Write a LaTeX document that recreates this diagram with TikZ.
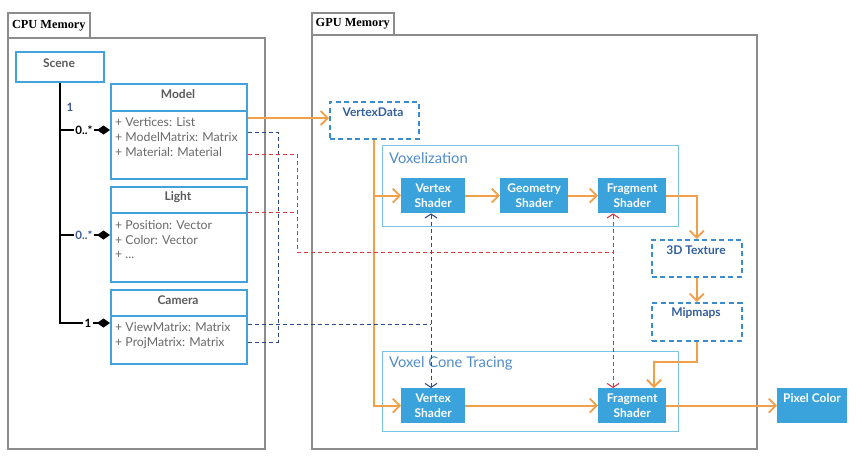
\documentclass[tikz,border=0pt]{standalone}
\usepackage{fontspec}
\setmainfont{Lato}
\newfontfamily\tabfont{Liberation Serif}
\usetikzlibrary{arrows.meta}
\definecolor{boxblue}{RGB}{58,163,220}
\definecolor{umlblue}{RGB}{65,162,220}
\definecolor{orng}{RGB}{240,160,72}
\definecolor{dashblue}{RGB}{60,140,205}
\definecolor{dtext}{RGB}{50,95,155}
\definecolor{framebl}{RGB}{125,195,232}
\definecolor{lbl}{RGB}{80,140,200}
\definecolor{navy}{RGB}{45,70,140}
\definecolor{redd}{RGB}{215,55,65}
\definecolor{gry}{RGB}{140,140,140}
\definecolor{txtg}{RGB}{105,105,105}
\definecolor{ttlg}{RGB}{90,90,90}
\definecolor{multblue}{RGB}{60,90,150}
\tikzset{
  memframe/.style={draw=gry, line width=1.6pt, anchor=north west, inner sep=0pt},
  memtab/.style={memframe, font=\tabfont\bfseries\fontsize{12.3}{14}\selectfont, text=black},
  umlbox/.style={draw=umlblue, line width=1.6pt, fill=white, anchor=north west, inner sep=0pt},
  umlline/.style={draw=umlblue, line width=1.6pt},
  ttl/.style={font=\bfseries\fontsize{12}{14}\selectfont, text=ttlg, inner sep=0pt},
  attr/.style={font=\fontsize{12.3}{14}\selectfont, text=txtg, anchor=west, inner sep=0pt},
  mult/.style={font=\bfseries\fontsize{11.5}{13}\selectfont, inner sep=1pt},
  blk/.style={draw=black, line width=1.6pt},
  dia/.style={blk, -{Diamond[length=13pt,width=9pt,fill=black]}},
  shader/.style={fill=boxblue, text=white, anchor=north west, inner sep=0pt, align=center,
    font=\bfseries\fontsize{12}{15}\selectfont},
  vframe/.style={draw=framebl, line width=1.2pt, anchor=north west, inner sep=0pt},
  flabel/.style={font=\fontsize{14.8}{16}\selectfont, text=lbl, anchor=west, inner sep=0pt},
  dbox/.style={draw=dashblue, line width=1.5pt, dash pattern=on 5pt off 3.5pt, anchor=north west, inner sep=0pt},
  dlab/.style={font=\bfseries\fontsize{12}{14}\selectfont, text=dtext, inner sep=0pt},
  oarr/.style={draw=orng, line width=1.8pt, -{Straight Barb[length=7pt,width=14pt]}},
  navyd/.style={draw=navy, line width=1pt, dash pattern=on 4pt off 3pt},
  redln/.style={draw=redd, line width=1pt, dash pattern=on 4pt off 3pt},
  dtips/.style={{Straight Barb[length=4pt,width=12pt]}-{Straight Barb[length=4pt,width=12pt]}}
}
\begin{document}
\begin{tikzpicture}[x=1pt,y=-1pt]
\useasboundingbox (0,0) rectangle (865,472);
% memory frames
\node[memframe, minimum width=257pt, minimum height=411pt] (cpu) at (7,37) {};
\node[memtab, minimum width=82pt, minimum height=25pt] (cputab) at (7,12) {CPU Memory};
\node[memframe, minimum width=445pt, minimum height=414pt] (gpu) at (311,34) {};
\node[memtab, minimum width=82pt, minimum height=22pt] (gputab) at (311,12) {GPU Memory};

% scene
\node[umlbox, minimum width=88pt, minimum height=30pt] (scene) at (15,51) {};
\node[ttl] (scenet) at (59,63) {Scene};

% model
\node[umlbox, minimum width=136pt, minimum height=95pt] (model) at (110,83) {};
\draw[umlline] (model.west |- 0,111) -- (model.east |- 0,111);
\node[ttl] (modelt) at (178,94) {Model};
\node[attr] (mv) at (115,122) {+ Vertices: List};
\node[attr] (mm) at (115,137) {+ ModelMatrix: Matrix};
\node[attr] (mt) at (115,152) {+ Material: Material};

% light
\node[umlbox, minimum width=136pt, minimum height=95pt] (light) at (110,186) {};
\draw[umlline] (light.west |- 0,213) -- (light.east |- 0,213);
\node[ttl] (lightt) at (178,197) {Light};
\node[attr] (lp) at (115,225) {+ Position: Vector};
\node[attr] (lc) at (115,240) {+ Color: Vector};
\node[attr] (le) at (115,255) {+ ...};

% camera
\node[umlbox, minimum width=136pt, minimum height=74pt] (camera) at (110,289) {};
\draw[umlline] (camera.west |- 0,316) -- (camera.east |- 0,316);
\node[ttl] (camerat) at (178,300) {Camera};
\node[attr] (cvm) at (115,327) {+ ViewMatrix: Matrix};
\node[attr] (cpm) at (115,343) {+ ProjMatrix: Matrix};

% scene composition
\node[mult, text=multblue] (n1) at (70,107) {1};
\node[mult, text=black] (m1) at (84,130) {0..*};
\node[mult, text=multblue] (m2) at (84,235) {0..*};
\node[mult, text=black] (m3) at (88,323) {1};
\draw[blk] (scene.south) |- (m3.west);
\draw[blk] (scene.south |- m1.west) -- (m1.west);
\draw[blk] (scene.south |- m2.west) -- (m2.west);
\draw[dia] (m1.east) -- (model.west |- m1.east);
\draw[dia] (m2.east) -- (light.west |- m2.east);
\draw[dia] (m3.east) -- (camera.west |- m3.east);

% GPU side
\node[dbox, minimum width=89pt, minimum height=37pt] (vd) at (329,101) {};
\node[dlab] (vdl) at (373,112) {VertexData};

\node[vframe, minimum width=296pt, minimum height=81pt] (vox) at (382,145) {};
\node[flabel] (voxl) at (389,158) {Voxelization};
\node[shader, minimum width=64pt, minimum height=35pt] (vv) at (401,178) {Vertex\\Shader};
\node[shader, minimum width=68pt, minimum height=35pt] (gs) at (500,178) {Geometry\\Shader};
\node[shader, minimum width=68pt, minimum height=35pt] (vf) at (598,178) {Fragment\\Shader};

\node[dbox, minimum width=90pt, minimum height=37pt] (tex) at (651,239) {};
\node[dlab] (texl) at (696,250) {3D Texture};
\node[dbox, minimum width=90pt, minimum height=38pt] (mip) at (651,302) {};
\node[dlab] (mipl) at (696,313) {Mipmaps};

\node[vframe, minimum width=296pt, minimum height=80pt] (vct) at (382,351) {};
\node[flabel] (vctl) at (389,363) {Voxel Cone Tracing};
\node[shader, minimum width=64pt, minimum height=35pt] (cv) at (401,388) {Vertex\\Shader};
\node[shader, minimum width=68pt, minimum height=35pt] (cf) at (598,388) {Fragment\\Shader};
\node[shader, minimum width=70pt, minimum height=35pt] (pix) at (777,388) {};
\node[dlab, text=white] (pixl) at (812,398) {Pixel Color};

% orange flow
\draw[oarr] (model.east |- 0,118) -- (vd.west |- 0,118);
\draw[oarr] (vd.south) |- (cv.west);
\draw[oarr] (vd.south |- vv.west) -- (vv.west);
\draw[oarr] (vv.east) -- (gs.west);
\draw[oarr] (gs.east) -- (vf.west);
\draw[oarr] (vf.east) -| (tex.north);
\draw[oarr] (tex.south) -- (mip.north);
\coordinate (mk) at (654,362);
\draw[oarr] (mip.south) |- (mk) -- (mk |- cf.north);
\draw[oarr] (cv.east) -- (cf.west);
\draw[oarr] (cf.east) -- (pix.west);

% navy dashed (matrices)
\draw[navyd] (model.east |- 0,132) -| (278,342) -- (camera.east |- 0,342);
\draw[navyd] (camera.east |- 0,324) -- (431,324);
\draw[navyd, dtips] (vv.south -| 431,0) -- (cv.north -| 431,0);

% red dashed (material, light)
\draw[redln] (model.east |- 0,154) -| (297,252) -- (613,252);
\draw[redln] (light.east |- 0,212) -- (297,212);
\draw[redln, dtips] (vf.south -| 613,0) -- (cf.north -| 613,0);
\end{tikzpicture}
\end{document}
